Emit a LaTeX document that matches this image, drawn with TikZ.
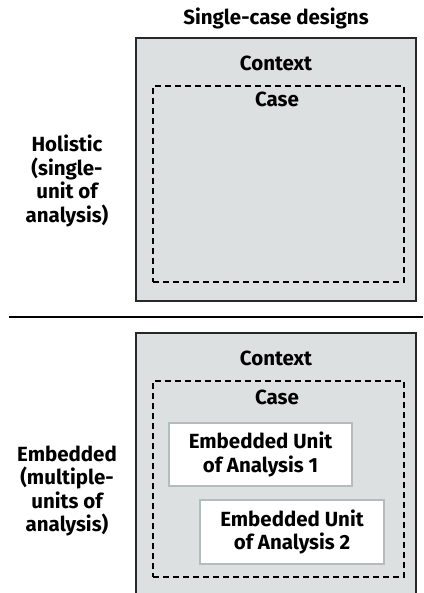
\documentclass[tikz,border=0pt]{standalone}
\usepackage{fontspec}
\setmainfont{Fira Sans}
\definecolor{panelgray}{RGB}{221,224,224}
\definecolor{framedark}{RGB}{40,40,40}
\definecolor{unitedge}{RGB}{180,188,188}
\begin{document}
\begin{tikzpicture}[x=1pt,y=1pt,
  lbl/.style={font=\fontsize{20.5}{23.5}\selectfont\bfseries, inner sep=0pt, align=center},
  contextbox/.style={draw=framedark, line width=1.6pt, fill=panelgray, inner sep=0pt},
  casebox/.style={draw=black, line width=1.3pt, dash pattern=on 6pt off 4pt, inner sep=0pt},
  unitbox/.style={draw=unitedge, line width=1.6pt, fill=white, inner sep=0pt}]
\useasboundingbox (0,0) rectangle (423,-593);
\clip (0,0) rectangle (423,-593);

% header
\node[lbl] (title) at (276,-18) {Single-case designs};

% holistic design
\node[contextbox, minimum width=280, minimum height=263] (ctxA) at (276,-169.5) {};
\node[casebox, minimum width=251, minimum height=196] (caseA) at (278.5,-184) {};
\node[lbl] (ctxAlbl) at (276,-63) {Context};
\node[lbl] (caseAlbl) at (277,-99) {Case};
\node[lbl] (holistic) at (67,-181) {Holistic\\(single-\\unit of\\analysis)};

% separator between the two rows
\coordinate (sepL) at (9,-317);
\coordinate (sepR) at (423,-317);
\draw[line width=2.2pt, black] (sepL) -- (sepR);

% embedded design
\node[contextbox, minimum width=280, minimum height=280] (ctxB) at (276,-473) {};
\node[casebox, minimum width=251, minimum height=196] (caseB) at (278.5,-479) {};
\node[lbl] (ctxBlbl) at (276,-358) {Context};
\node[lbl] (caseBlbl) at (277,-397) {Case};
\node[unitbox, minimum width=183, minimum height=63] (unitA) at (260.5,-454.5) {};
\node[lbl] at (unitA) {Embedded Unit\\of Analysis 1};
\node[unitbox, minimum width=184, minimum height=64] (unitB) at (292,-532) {};
\node[lbl] at (unitB) {Embedded Unit\\of Analysis 2};
\node[lbl] (embedded) at (67,-491) {Embedded\\(multiple-\\units of\\analysis)};
\end{tikzpicture}
\end{document}
